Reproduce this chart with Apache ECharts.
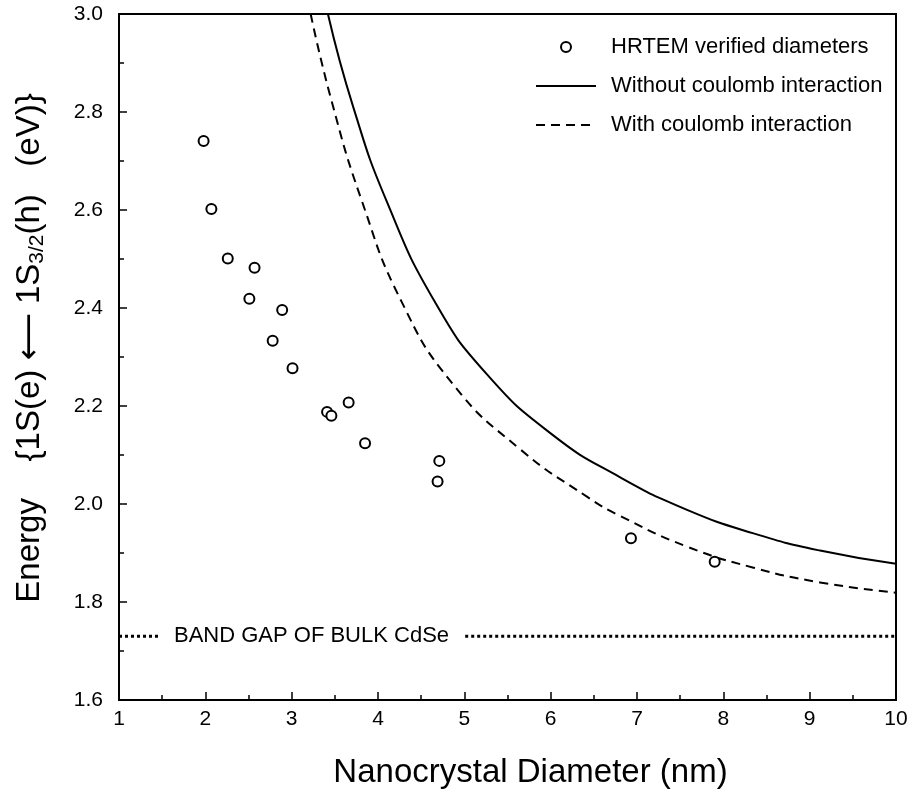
<!DOCTYPE html>
<html>
<head>
<meta charset="utf-8">
<script src="https://cdn.jsdelivr.net/npm/echarts@6/dist/echarts.min.js"></script>
<style>html,body{margin:0;padding:0;background:#fff}#c{width:910px;height:794px}</style>
</head>
<body>
<div id="c"></div>
<script>
// HRTEM verified diameters (scatter)
const hrtemDiameter = [1.98, 2.07, 2.26, 2.57, 2.51, 2.89, 2.78, 3.01, 3.41, 3.46, 3.66, 3.85, 4.71, 4.69, 6.93, 7.90];
const hrtemEnergy   = [2.741, 2.602, 2.501, 2.482, 2.419, 2.396, 2.333, 2.277, 2.188, 2.180, 2.207, 2.124, 2.088, 2.046, 1.930, 1.882];
// Without coulomb interaction (solid curve)
const noCoulombD = [3.42, 3.71, 4.10, 4.66, 5.26, 6.03, 6.80, 7.58, 8.35, 9.12, 10];
const noCoulombE = [3.0, 2.812, 2.618, 2.412, 2.265, 2.140, 2.055, 1.988, 1.940, 1.905, 1.878];
// With coulomb interaction (dashed curve)
const coulombD = [3.22, 3.46, 3.81, 4.27, 4.87, 5.645, 6.42, 6.80, 7.58, 8.35, 9.12, 10];
const coulombE = [3.0, 2.824, 2.620, 2.414, 2.244, 2.112, 2.015, 1.976, 1.913, 1.870, 1.840, 1.819];
// Bulk band gap
const bandGapEnergy = 1.73;
const bandGapLeftSeg = [1, 1.48];
const bandGapRightSeg = [5.01, 10];
const bandGapLabelX = 3.23;
const bandGapLabel = 'BAND GAP OF BULK CdSe';
const seriesNames = ['HRTEM verified diameters', 'Without coulomb interaction', 'With coulomb interaction'];

const zip = (xs, ys) => xs.map((x, i) => [x, ys[i]]);
const FONT = '"Liberation Sans", Arial, Helvetica, sans-serif';

const chart = echarts.init(document.getElementById('c'), null, {renderer: 'canvas'});
chart.setOption({
  animation: false,
  backgroundColor: '#fff',
  textStyle: {fontFamily: FONT, color: '#000'},
  grid: {left: 119, right: 14, top: 14, bottom: 94, show: true, borderColor: '#000', borderWidth: 2,
         backgroundColor: 'transparent', containLabel: false, outerBoundsMode: 'none'},
  legend: {
    data: [
      {name: seriesNames[0]},
      {name: seriesNames[1], itemStyle: {opacity: 0}},
      {name: seriesNames[2], itemStyle: {opacity: 0}}
    ],
    orient: 'vertical',
    left: 530,
    top: 29,
    itemWidth: 60,
    itemHeight: 10,
    itemGap: 13,
    textStyle: {fontFamily: FONT, fontSize: 22, color: '#000', lineHeight: 26, padding: [0, 0, 0, 10]},
    selectedMode: false
  },
  xAxis: {
    type: 'value', min: 1, max: 10, interval: 1,
    name: 'Nanocrystal Diameter (nm)', nameLocation: 'middle', nameGap: 56,
    nameTextStyle: {fontFamily: FONT, fontSize: 33, color: '#000', padding: [0, 0, 0, 46]},
    axisLine: {show: true, onZero: false, lineStyle: {color: '#000', width: 2}},
    axisTick: {show: true, inside: true, length: 8, lineStyle: {color: '#000', width: 1.5}},
    minorTick: {show: true, splitNumber: 2, length: 5, lineStyle: {color: '#000', width: 1.5}},
    splitLine: {show: false},
    axisLabel: {fontFamily: FONT, fontSize: 21, color: '#000', margin: 9}
  },
  yAxis: {
    type: 'value', min: 1.6, max: 3.0, interval: 0.2,
    name: '{t|Energy    \u007B1S(e) }{a|\u27F5}{t| 1S}{s|3/2}{t|(h)\u007D   (eV)}',
    nameLocation: 'middle', nameGap: 69, nameRotate: 90,
    nameTextStyle: {
      fontFamily: FONT, fontSize: 33, color: '#000', padding: [0, 0, 0, 18],
      rich: {
        t: {fontFamily: FONT, fontSize: 33, color: '#000', lineHeight: 40, verticalAlign: 'middle'},
        a: {fontFamily: '"DejaVu Sans", sans-serif', fontSize: 33, color: '#000', lineHeight: 40, verticalAlign: 'middle'},
        s: {fontFamily: FONT, fontSize: 21, color: '#000', lineHeight: 40, verticalAlign: 'bottom', padding: [0, 0, 2, 0]}
      }
    },
    axisLine: {show: true, onZero: false, lineStyle: {color: '#000', width: 2}},
    axisTick: {show: true, inside: true, length: 8, lineStyle: {color: '#000', width: 1.5}},
    minorTick: {show: true, splitNumber: 2, length: 5, lineStyle: {color: '#000', width: 1.5}},
    splitLine: {show: false},
    axisLabel: {fontFamily: FONT, fontSize: 21, color: '#000', margin: 16, formatter: v => v.toFixed(1)}
  },
  series: [
    {
      name: seriesNames[0], type: 'scatter', data: zip(hrtemDiameter, hrtemEnergy),
      symbol: 'emptyCircle', symbolSize: 10,
      itemStyle: {color: '#000', borderColor: '#000', borderWidth: 2, opacity: 1}, z: 5
    },
    {
      name: seriesNames[1], type: 'line', data: zip(noCoulombD, noCoulombE),
      smooth: 0.5, showSymbol: false, symbol: 'none', clip: true,
      lineStyle: {color: '#000', width: 2, type: 'solid'}, itemStyle: {color: '#000'}
    },
    {
      name: seriesNames[2], type: 'line', data: zip(coulombD, coulombE),
      smooth: 0.5, showSymbol: false, symbol: 'none', clip: true,
      lineStyle: {color: '#000', width: 2, type: [9, 6]}, itemStyle: {color: '#000'}
    },
    {
      name: 'bandgap-left', type: 'line',
      data: bandGapLeftSeg.map(x => [x, bandGapEnergy]),
      showSymbol: false, symbol: 'none', silent: true,
      lineStyle: {color: '#000', width: 3, type: [3, 3]}
    },
    {
      name: 'bandgap-right', type: 'line',
      data: bandGapRightSeg.map(x => [x, bandGapEnergy]),
      showSymbol: false, symbol: 'none', silent: true,
      lineStyle: {color: '#000', width: 3, type: [3, 3]}
    },
    {
      name: 'bandgap-label', type: 'scatter', silent: true,
      data: [[bandGapLabelX, bandGapEnergy]], symbolSize: 0,
      itemStyle: {opacity: 1},
      label: {show: true, position: 'inside', formatter: bandGapLabel, fontFamily: FONT, fontSize: 22, color: '#000', opacity: 1}
    }
  ]
});
</script>
</body>
</html>
